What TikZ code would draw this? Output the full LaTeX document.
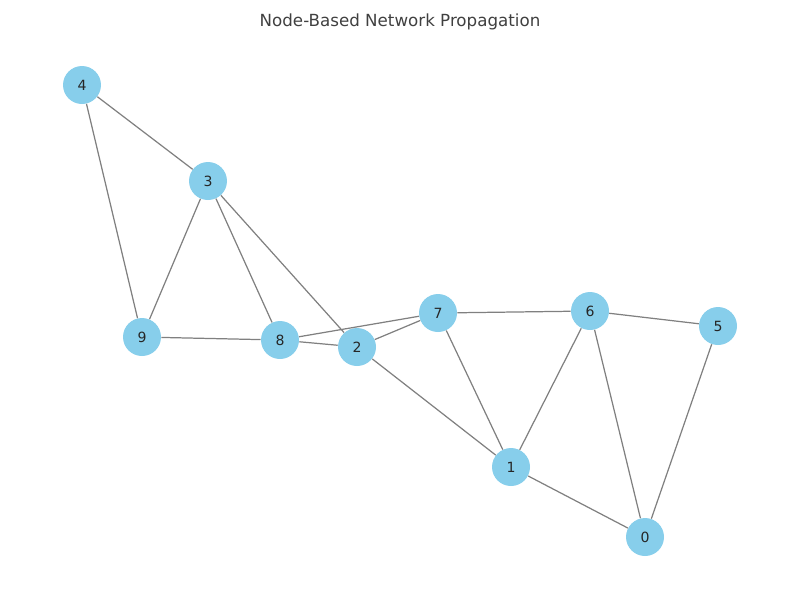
\documentclass[tikz,border=0pt]{standalone}
\usepackage{fontspec}
\setmainfont{DejaVu Sans}
\definecolor{nodeblue}{HTML}{87CEEB}
\definecolor{edgegray}{HTML}{808080}
\tikzset{
  vert/.style={circle, fill=nodeblue, minimum size=0.76cm, inner sep=0pt, font=\fontsize{8}{9}\selectfont, text=black!85},
  edge/.style={draw=edgegray, line width=0.7pt},
}
\begin{document}
\begin{tikzpicture}[x=0.02cm,y=-0.02cm]
\useasboundingbox (0,0) rectangle (800,600);
\node[font=\fontsize{9.5}{11}\selectfont, text=black!75] (title) at (400,22) {Node-Based Network Propagation};
\node[vert] (n0) at (645,537) {0};
\node[vert] (n1) at (511,467) {1};
\node[vert] (n2) at (357,347) {2};
\node[vert] (n3) at (208,181) {3};
\node[vert] (n4) at (82,85) {4};
\node[vert] (n5) at (718,326) {5};
\node[vert] (n6) at (590,311) {6};
\node[vert] (n7) at (438,313) {7};
\node[vert] (n8) at (280,340) {8};
\node[vert] (n9) at (142,337) {9};
\begin{scope}[on background layer/.style={}]
\end{scope}
\begin{pgfonlayer}{main}
\end{pgfonlayer}
\foreach \a/\b in {n4/n3,n4/n9,n3/n9,n3/n8,n3/n2,n9/n8,n8/n7,n8/n2,n2/n7,n2/n1,n7/n6,n7/n1,n6/n1,n6/n5,n6/n0,n5/n0,n1/n0}
  \draw[edge] (\a) -- (\b);
\end{tikzpicture}
\end{document}
